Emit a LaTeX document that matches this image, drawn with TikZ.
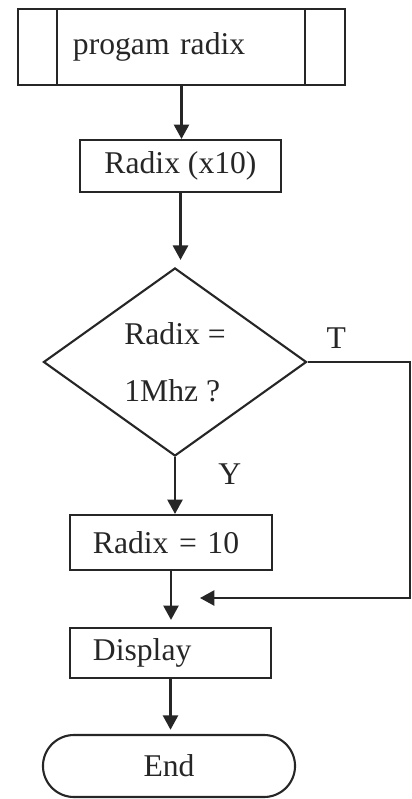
\documentclass[tikz,border=0pt]{standalone}
\usepackage{fontspec}
\setmainfont{Liberation Serif}
\usetikzlibrary{arrows.meta,positioning,shapes.geometric}

\begin{document}
\begin{tikzpicture}[x=0.025cm,y=-0.025cm,
      font=\fontsize{22.5}{27}\selectfont,
      ln/.style={line width=1.5pt,black!85},
      box/.style={draw,ln,inner sep=0pt},
      ar/.style={ln,-{Triangle[length=3.6mm,width=3.8mm]}}]
    \useasboundingbox (0,0) rectangle (412,799);
    % start block
    \node[box,minimum width=8.175cm,minimum height=1.9cm,
          text width=5.425cm,align=left,
          path picture={
            \draw[ln] ([xshift=0.975cm]path picture bounding box.north west)
              -- ([xshift=0.975cm]path picture bounding box.south west);
            \draw[ln] ([xshift=-1cm]path picture bounding box.north east)
              -- ([xshift=-1cm]path picture bounding box.south east);}]
      (prog) at (181.5,47) {progam radix};
    \node[box,minimum width=5.025cm,minimum height=1.3cm]
      (mul) at (180.5,166) {Radix (x10)};
    % decision
    \node[draw,ln,diamond,aspect=1.4,minimum width=6.575cm,
          minimum height=4.7cm,inner sep=0pt,align=left]
      (test) at (175,362) {Radix =\\[13.5pt]1Mhz ?};
    \node[box,minimum width=5.05cm,minimum height=1.375cm,
          text width=3.9cm,align=left]
      (set) at (171,542.5) {Radix = 10};
    \node[box,minimum width=5.025cm,minimum height=1.25cm,
          text width=3.875cm,align=left]
      (disp) at (170.5,653) {Display};
    \node[draw,ln,rounded corners=0.775cm,minimum width=6.3cm,
          minimum height=1.55cm]
      (stop) at (169,766) {End};
    % arrows
    \draw[ar] (prog.south) -- (prog.south |- mul.north);
    \draw[ar,shorten >=5pt] (mul.south) -- (mul.south |- test.north);
    \draw[ar] (test.south) -- node[pos=0.3,right=0.94cm] {Y}
      (test.south |- set.north);
    \draw[ar,shorten >=5pt] (set.south) -- (set.south |- disp.north);
    \draw[ar,shorten >=3pt] (disp.south) -- (disp.south |- stop.north);
    % back loop
    \coordinate (rt) at (410,598);
    \coordinate (bk) at (200,598);
    \draw[ar] (test.east) -- node[pos=0.28,above=0.2cm] {T}
      (test.east -| rt) -- (rt) -- (bk);
  \end{tikzpicture}
\end{document}
